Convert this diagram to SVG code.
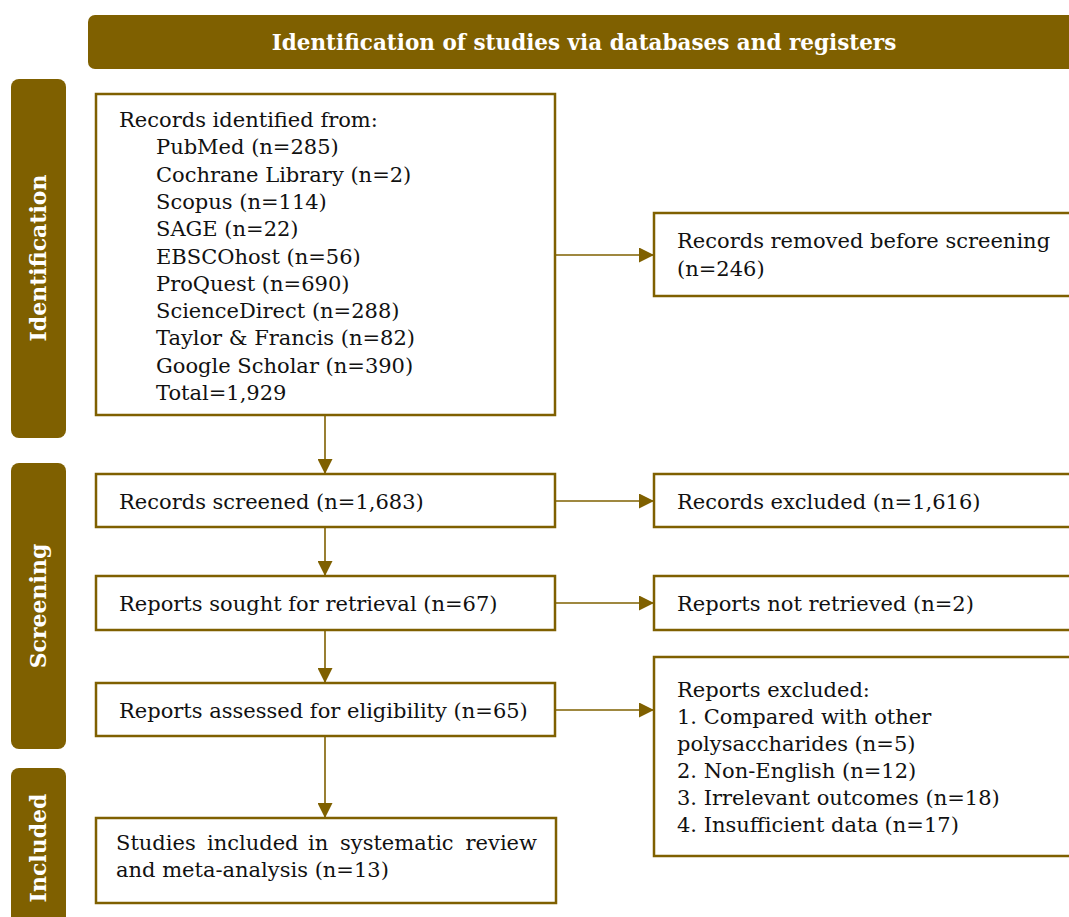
<svg xmlns="http://www.w3.org/2000/svg" width="1069" height="917" viewBox="0 0 1069 917">
<style>
.band{fill:#7f6000;}
.box{fill:#ffffff;stroke:#7f6000;stroke-width:2.5;}
.t{font-family:"DejaVu Serif","Liberation Serif",serif;font-size:21px;fill:#111111;}
.h{font-family:"DejaVu Serif","Liberation Serif",serif;font-size:21.5px;font-weight:bold;fill:#ffffff;}
.v{font-family:"DejaVu Serif","Liberation Serif",serif;font-size:22px;font-weight:bold;fill:#ffffff;}
.c{stroke:#7f6000;stroke-width:1.6;fill:none;}
</style>
<defs>
<marker id="ah" viewBox="0 0 15 15" refX="15" refY="7.5" markerWidth="15" markerHeight="15" markerUnits="userSpaceOnUse" orient="auto">
<path d="M0,0 L15,7.5 L0,15 Z" fill="#7f6000"/>
</marker>
</defs>
<rect width="1069" height="917" fill="#ffffff"/>
<g id="header">
<rect class="band" x="88" y="15" width="1000" height="54" rx="7"/>
<text class="h" x="584" y="50" text-anchor="middle">Identification of studies via databases and registers</text>
</g>
<g id="phase-identification">
<rect class="band" x="11" y="79" width="55" height="359" rx="8"/>
<text class="v" transform="translate(46,258) rotate(-90)" text-anchor="middle">Identification</text>
</g>
<g id="phase-screening">
<rect class="band" x="11" y="463" width="55" height="286" rx="8"/>
<text class="v" transform="translate(46,606) rotate(-90)" text-anchor="middle">Screening</text>
</g>
<g id="phase-included">
<rect class="band" x="11" y="768" width="55" height="170" rx="8"/>
<text class="v" transform="translate(46,848) rotate(-90)" text-anchor="middle">Included</text>
</g>
<g id="connectors">
<line class="c" x1="325" y1="415" x2="325" y2="474" marker-end="url(#ah)"/>
<line class="c" x1="325" y1="527" x2="325" y2="576" marker-end="url(#ah)"/>
<line class="c" x1="325" y1="630" x2="325" y2="683" marker-end="url(#ah)"/>
<line class="c" x1="325" y1="736" x2="325" y2="818" marker-end="url(#ah)"/>
<line class="c" x1="555" y1="255" x2="654" y2="255" marker-end="url(#ah)"/>
<line class="c" x1="555" y1="501" x2="654" y2="501" marker-end="url(#ah)"/>
<line class="c" x1="555" y1="603" x2="654" y2="603" marker-end="url(#ah)"/>
<line class="c" x1="555" y1="710" x2="654" y2="710" marker-end="url(#ah)"/>
</g>
<g id="records-identified">
<rect class="box" x="96" y="94" width="459" height="321"/>
<text class="t" x="119" y="127">Records identified from:</text>
<text class="t" x="156" y="154.3">PubMed (n=285)</text>
<text class="t" x="156" y="181.6">Cochrane Library (n=2)</text>
<text class="t" x="156" y="208.9">Scopus (n=114)</text>
<text class="t" x="156" y="236.2">SAGE (n=22)</text>
<text class="t" x="156" y="263.5">EBSCOhost (n=56)</text>
<text class="t" x="156" y="290.8">ProQuest (n=690)</text>
<text class="t" x="156" y="318.1">ScienceDirect (n=288)</text>
<text class="t" x="156" y="345.4">Taylor &amp; Francis (n=82)</text>
<text class="t" x="156" y="372.7">Google Scholar (n=390)</text>
<text class="t" x="156" y="400">Total=1,929</text>
</g>
<g id="records-removed">
<rect class="box" x="654" y="213" width="430" height="83"/>
<text class="t" x="677" y="248">Records removed before screening</text>
<text class="t" x="677" y="276">(n=246)</text>
</g>
<g id="records-screened">
<rect class="box" x="96" y="474" width="459" height="53"/>
<text class="t" x="119" y="509">Records screened (n=1,683)</text>
</g>
<g id="records-excluded">
<rect class="box" x="654" y="474" width="430" height="53"/>
<text class="t" x="677" y="509">Records excluded (n=1,616)</text>
</g>
<g id="reports-sought">
<rect class="box" x="96" y="576" width="459" height="54"/>
<text class="t" x="119" y="611">Reports sought for retrieval (n=67)</text>
</g>
<g id="reports-not-retrieved">
<rect class="box" x="654" y="576" width="430" height="54"/>
<text class="t" x="677" y="611">Reports not retrieved (n=2)</text>
</g>
<g id="reports-assessed">
<rect class="box" x="96" y="683" width="459" height="53"/>
<text class="t" x="119" y="718">Reports assessed for eligibility (n=65)</text>
</g>
<g id="reports-excluded">
<rect class="box" x="654" y="657" width="430" height="199"/>
<text class="t" x="677" y="697">Reports excluded:</text>
<text class="t" x="677" y="724">1. Compared with other</text>
<text class="t" x="677" y="751">polysaccharides (n=5)</text>
<text class="t" x="677" y="778">2. Non-English (n=12)</text>
<text class="t" x="677" y="805">3. Irrelevant outcomes (n=18)</text>
<text class="t" x="677" y="832">4. Insufficient data (n=17)</text>
</g>
<g id="studies-included">
<rect class="box" x="96" y="818" width="460" height="85"/>
<text class="t" y="850"><tspan x="116">Studies</tspan><tspan x="207">included</tspan><tspan x="308">in</tspan><tspan x="340">systematic</tspan></text>
<text class="t" x="537" y="850" text-anchor="end">review</text>
<text class="t" x="116" y="877">and meta-analysis (n=13)</text>
</g>
</svg>
